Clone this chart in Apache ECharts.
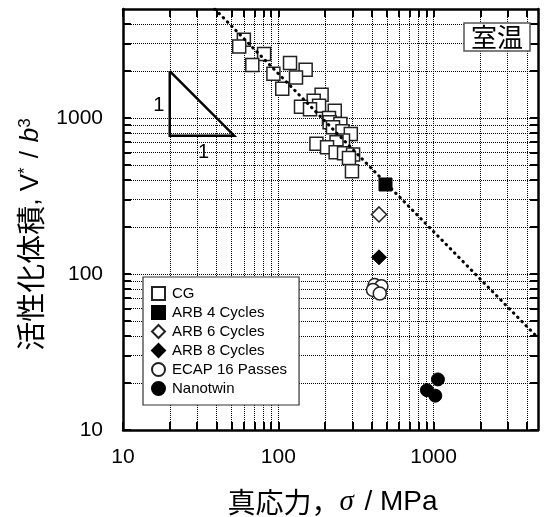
<!DOCTYPE html>
<html><head><meta charset="utf-8">
<script src="https://cdn.jsdelivr.net/npm/echarts@6/dist/echarts.min.js"></script>
<style>html,body{margin:0;padding:0;background:#fff}#c{width:545px;height:517px}</style>
</head><body><div id="c"></div>
<script>
// ---- tick values ----
const xTickValues = [10,20,30,40,50,60,70,80,90,100,200,300,400,500,600,700,800,900,1000,2000,3000,4000];
const yTickValues = [10,20,30,40,50,60,70,80,90,100,200,300,400,500,600,700,800,900,1000,2000,3000,4000];
const xLabelValues = [10,100,1000];
const yLabelValues = [10,100,1000];

// ---- series data (true stress MPa, activation volume V*/b^3) ----
const cgStress = [60,56,81,68,119,150,130,93,106,190,169,183,140,160,231,212,214,251,225,259,293,261,237,176,206,234,265,303,285,298];
const cgVolume = [3170,2870,2570,2190,2250,2040,1820,1920,1540,1410,1290,1200,1180,1140,1115,1000,940,917,872,822,790,717,699,683,650,603,595,583,555,456];
const arb4Stress = [490];
const arb4Volume = [375];
const arb6Stress = [445];
const arb6Volume = [241];
const arb8Stress = [445];
const arb8Volume = [128];
const ecapStress = [417,461,407,450];
const ecapVolume = [85,83.5,79,75];
const nanoStress = [1066,906,1025];
const nanoVolume = [21.1,18.0,16.6];
const fitStress = [39,4700];
const fitVolume = [5000,39];
const triStress = [20,20,52,20];
const triVolume = [2000,770,770,2000];
const triLabelStress = [17,33];
const triLabelVolume = [1200,600];

const seriesNames = ['CG','ARB 4 Cycles','ARB 6 Cycles','ARB 8 Cycles','ECAP 16 Passes','Nanotwin'];

const zip = (a,b) => a.map((v,i)=>[v,b[i]]);
const LAT = '"Liberation Sans", Arial, "Noto Sans CJK JP", sans-serif';
const CJK = '"Noto Sans CJK JP", sans-serif';
const openStyle = {color:'#fff', borderColor:'#222', borderWidth:1.5, opacity:1};
const fillStyle = {color:'#000', borderColor:'#000', borderWidth:1, opacity:1};

function axisCommon(ticks){
  return {
    type:'log', logBase:10,
    axisLine:{show:true, onZero:false, lineStyle:{color:'#000', width:2.5}},
    axisTick:{show:true, inside:true, length:8, customValues:ticks, lineStyle:{color:'#000', width:2}},
    minorTick:{show:false}
  };
}

const chart = echarts.init(document.getElementById('c'), null, {renderer:'canvas'});
chart.setOption({
  animation:false,
  backgroundColor:'#fff',
  grid:{left:123, right:7, top:9, bottom:87, containLabel:false, outerBoundsMode:'none'},
  title:{
    text:'室温', right:15, top:23, padding:[1,7],
    borderColor:'#555', borderWidth:1.5, backgroundColor:'#fff',
    textStyle:{fontSize:26, fontWeight:'normal', color:'#000', fontFamily:CJK}
  },
  legend:{
    data:seriesNames, orient:'vertical', left:143, top:277,
    itemWidth:13, itemHeight:13, itemGap:4,
    padding:[9,12,9,8],
    borderColor:'#333', borderWidth:1.2, backgroundColor:'#fff',
    textStyle:{fontSize:15, color:'#000', fontFamily:LAT, padding:[0,0,0,2]},
    selectedMode:false
  },
  xAxis:[
    Object.assign(axisCommon(xTickValues), {
      min:10, max:4700, position:'bottom',
      axisLabel:{customValues:xLabelValues, fontSize:21, color:'#000', margin:17, fontFamily:LAT,
        formatter:v=>String(Math.round(v))},
      splitLine:{show:true, lineStyle:{type:'dotted', color:'#000', width:1}},
      name:'{c|真応力，}{s|σ}{l| / MPa}', nameLocation:'middle', nameGap:58,
      nameTextStyle:{padding:[0,0,0,4], rich:{
        c:{fontSize:28, fontFamily:CJK, color:'#000'},
        l:{fontSize:28, fontFamily:LAT, color:'#000'},
        s:{fontSize:29, fontFamily:'"Liberation Serif", serif', fontStyle:'italic', color:'#000', padding:[0,3,0,0]}
      }}
    }),
    Object.assign(axisCommon(xTickValues), {
      min:10, max:4700, position:'top',
      axisLabel:{show:false}, splitLine:{show:false}
    })
  ],
  yAxis:[
    Object.assign(axisCommon(yTickValues), {
      min:10, max:5000, position:'left',
      axisLabel:{customValues:yLabelValues, fontSize:21, color:'#000', margin:20, fontFamily:LAT,
        formatter:v=>String(Math.round(v))},
      splitLine:{show:true, lineStyle:{type:'dotted', color:'#000', width:1}},
      name:'{c|活性化体積}{l|, V}{u|*}{d|/}{b|b}{u|3}', nameLocation:'middle', nameGap:71,
      nameTextStyle:{padding:[0,30,0,0], rich:{
        c:{fontSize:29, fontFamily:CJK, color:'#000'},
        l:{fontSize:26, fontFamily:LAT, color:'#000'},
        d:{fontSize:26, fontFamily:LAT, color:'#000', padding:[0,9,0,9]},
        b:{fontSize:26, fontFamily:LAT, fontStyle:'italic', color:'#000'},
        u:{fontSize:17, fontFamily:LAT, color:'#000', verticalAlign:'top', padding:[0,0,12,0]}
      }}
    }),
    Object.assign(axisCommon(yTickValues), {
      min:10, max:5000, position:'right',
      axisLabel:{show:false}, splitLine:{show:false}
    })
  ],
  series:[
    {name:'CG', type:'scatter', data:zip(cgStress,cgVolume), symbol:'rect', symbolSize:13, itemStyle:openStyle, z:3},
    {name:'ARB 4 Cycles', type:'scatter', data:zip(arb4Stress,arb4Volume), symbol:'rect', symbolSize:13, itemStyle:fillStyle, z:3},
    {name:'ARB 6 Cycles', type:'scatter', data:zip(arb6Stress,arb6Volume), symbol:'diamond', symbolSize:15, itemStyle:openStyle, z:3},
    {name:'ARB 8 Cycles', type:'scatter', data:zip(arb8Stress,arb8Volume), symbol:'diamond', symbolSize:15, itemStyle:fillStyle, z:3},
    {name:'ECAP 16 Passes', type:'scatter', data:zip(ecapStress,ecapVolume), symbol:'circle', symbolSize:13, itemStyle:openStyle, z:3},
    {name:'Nanotwin', type:'scatter', data:zip(nanoStress,nanoVolume), symbol:'circle', symbolSize:13, itemStyle:fillStyle, z:3},
    {name:'fit', type:'line', data:zip(fitStress,fitVolume), symbol:'none', z:4,
      lineStyle:{color:'#000', width:3, type:[0.5,5.5], cap:'round', opacity:1}},
    {name:'slope', type:'line', data:zip(triStress,triVolume), symbol:'none', z:4,
      lineStyle:{color:'#000', width:2.5, join:'miter', opacity:1}},
    {name:'slopeLabel', type:'scatter', data:zip(triLabelStress,triLabelVolume), symbolSize:0, z:4,
      itemStyle:{opacity:1},
      label:{show:true, position:'inside', formatter:'1', fontSize:20, color:'#000', fontFamily:LAT}}
  ]
});
</script></body></html>
